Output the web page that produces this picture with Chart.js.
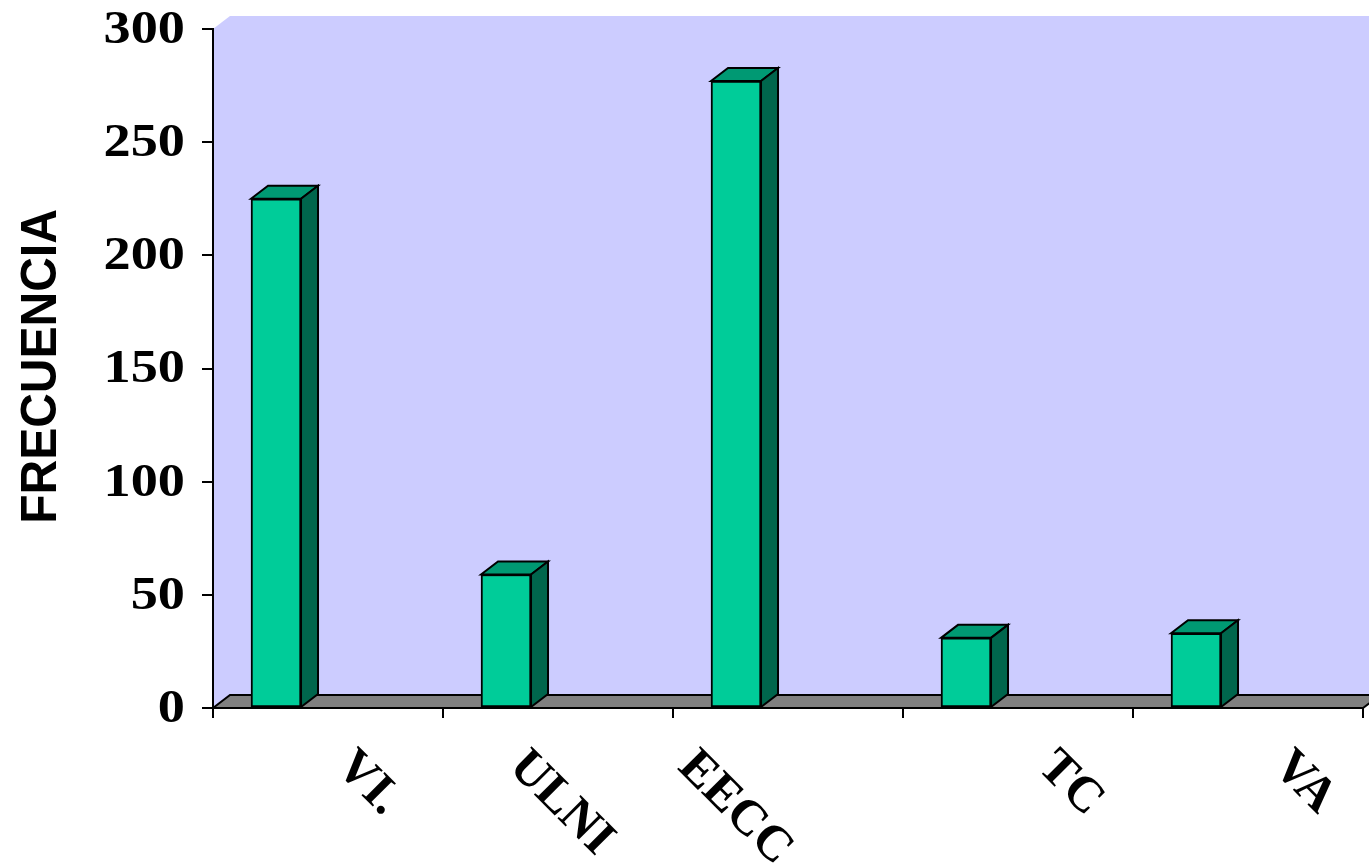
<!DOCTYPE html>
<html>
<head>
<meta charset="utf-8">
<script src="https://cdn.jsdelivr.net/npm/chart.js@4.4.1/dist/chart.umd.min.js"></script>
<style>
  html, body { margin: 0; padding: 0; background: #ffffff; }
  #wrap { width: 1369px; height: 866px; position: relative; }
</style>
</head>
<body>
<div id="wrap"><canvas id="grafico"></canvas></div>
<script>
// Datos
const categorias = ['VI.', 'ULNI', 'EECC', 'TC', 'VA'];
const frecuencias = [225, 59, 277, 31, 33];
const ejeY = { min: 0, max: 300, paso: 50 };
const tituloY = 'FRECUENCIA';

// Estilo
const PARED = '#CCCCFF';
const SUELO = '#808080';
const FRENTE = '#00CC99';
const TAPA = '#009973';
const LADO = '#00664D';
const DX = 17, DY = 13;            // profundidad del efecto 3D
const POS_BARRA = 0.274;           // posicion de la barra dentro de su categoria
const FUENTE_SERIF = '"Liberation Serif", "Times New Roman", Times, serif';
const FUENTE_SANS = '"Liberation Sans", Arial, sans-serif';
const DESPLAZ_ETIQ = [30, -27, -88, 42, 47]; // ajuste horizontal de cada etiqueta girada

const escena3d = {
  id: 'escena3d',
  beforeDraw(chart) {
    const { ctx, chartArea: a } = chart;
    ctx.save();
    // pared del fondo
    ctx.fillStyle = PARED;
    ctx.beginPath();
    ctx.moveTo(a.left, a.bottom);
    ctx.lineTo(a.left, a.top);
    ctx.lineTo(a.left + DX, a.top - DY);
    ctx.lineTo(a.right + DX, a.top - DY);
    ctx.lineTo(a.right + DX, a.bottom - DY);
    ctx.lineTo(a.right, a.bottom);
    ctx.closePath();
    ctx.fill();
    // suelo
    ctx.fillStyle = SUELO;
    ctx.strokeStyle = '#000';
    ctx.lineWidth = 2;
    ctx.beginPath();
    ctx.moveTo(a.left, a.bottom);
    ctx.lineTo(a.left + DX, a.bottom - DY);
    ctx.lineTo(a.right + DX, a.bottom - DY);
    ctx.lineTo(a.right, a.bottom);
    ctx.closePath();
    ctx.fill();
    ctx.stroke();
    ctx.restore();
  },
  afterDatasetsDraw(chart) {
    const { ctx } = chart;
    const meta = chart.getDatasetMeta(0);
    ctx.save();
    ctx.strokeStyle = '#000';
    ctx.lineWidth = 2;
    ctx.lineJoin = 'miter';
    meta.data.forEach(bar => {
      const { x, y, base, width } = bar.getProps(['x', 'y', 'base', 'width'], true);
      const l = x - width / 2, r = x + width / 2;
      // cara superior
      ctx.fillStyle = TAPA;
      ctx.beginPath();
      ctx.moveTo(l, y);
      ctx.lineTo(l + DX, y - DY);
      ctx.lineTo(r + DX, y - DY);
      ctx.lineTo(r, y);
      ctx.closePath();
      ctx.fill();
      ctx.stroke();
      // cara lateral
      ctx.fillStyle = LADO;
      ctx.beginPath();
      ctx.moveTo(r, y);
      ctx.lineTo(r + DX, y - DY);
      ctx.lineTo(r + DX, base - DY);
      ctx.lineTo(r, base);
      ctx.closePath();
      ctx.fill();
      ctx.stroke();
    });
    ctx.restore();
  },
  afterDraw(chart) {
    const { ctx, chartArea: a, scales } = chart;
    ctx.save();
    ctx.fillStyle = '#000';
    // etiquetas del eje Y
    ctx.font = 'bold 46px ' + FUENTE_SERIF;
    ctx.textAlign = 'right';
    ctx.textBaseline = 'middle';
    scales.y.ticks.forEach(t => {
      const py = scales.y.getPixelForValue(t.value);
      ctx.save();
      ctx.translate(a.left - 28, py + 2);
      ctx.scale(1.18, 1);
      ctx.fillText(String(t.value), 0, 0);
      ctx.restore();
    });
    // etiquetas de categorias, giradas 45 grados
    const tam = 50;
    const cap = 0.662 * tam;
    ctx.font = 'bold ' + tam + 'px ' + FUENTE_SERIF;
    ctx.textAlign = 'left';
    ctx.textBaseline = 'alphabetic';
    categorias.forEach((c, i) => {
      const cx = scales.x.getPixelForValue(i + 0.5) + DESPLAZ_ETIQ[i];
      const cy = a.bottom + 37;
      const k = Math.SQRT1_2 * cap;
      ctx.save();
      ctx.translate(cx - k, cy + k);
      ctx.rotate(Math.PI / 4);
      ctx.fillText(c, 0, 0);
      ctx.restore();
    });
    // titulo del eje Y
    ctx.font = 'bold 48px ' + FUENTE_SANS;
    ctx.textAlign = 'center';
    ctx.textBaseline = 'middle';
    ctx.save();
    ctx.translate(42, (a.top + a.bottom) / 2 - 2);
    ctx.scale(1.04, 1);
    ctx.rotate(-Math.PI / 2);
    ctx.fillText(tituloY, 0, 0);
    ctx.restore();
    ctx.restore();
  }
};

function dibujar() {
  new Chart(document.getElementById('grafico'), {
    type: 'bar',
    data: {
      datasets: [{
        data: frecuencias.map((v, i) => ({ x: i + POS_BARRA, y: v })),
        backgroundColor: FRENTE,
        borderColor: '#000',
        borderWidth: 2,
        borderSkipped: false,
        barThickness: 50
      }]
    },
    options: {
      responsive: true,
      maintainAspectRatio: false,
      animation: false,
      layout: { padding: { left: 202, right: 6, top: 29, bottom: 148 } },
      plugins: { legend: { display: false }, tooltip: { enabled: false } },
      scales: {
        x: {
          type: 'linear',
          min: 0,
          max: categorias.length,
          offset: false,
          ticks: { display: false, stepSize: 1 },
          grid: { drawOnChartArea: false, drawTicks: true, tickLength: 10, color: '#000', lineWidth: 2, offset: false },
          border: { display: true, color: '#000', width: 2 },
          afterFit: s => { s.height = 10; }
        },
        y: {
          min: ejeY.min,
          max: ejeY.max,
          ticks: { display: false, stepSize: ejeY.paso },
          grid: { drawOnChartArea: false, drawTicks: true, tickLength: 11, color: '#000', lineWidth: 2 },
          border: { display: true, color: '#000', width: 2 },
          afterFit: s => { s.width = 11; }
        }
      }
    },
    plugins: [escena3d]
  });
}

Promise.all([
  document.fonts.load('bold 50px "Liberation Serif"'),
  document.fonts.load('bold 48px "Liberation Sans"')
]).then(dibujar, dibujar);
</script>
</body>
</html>
